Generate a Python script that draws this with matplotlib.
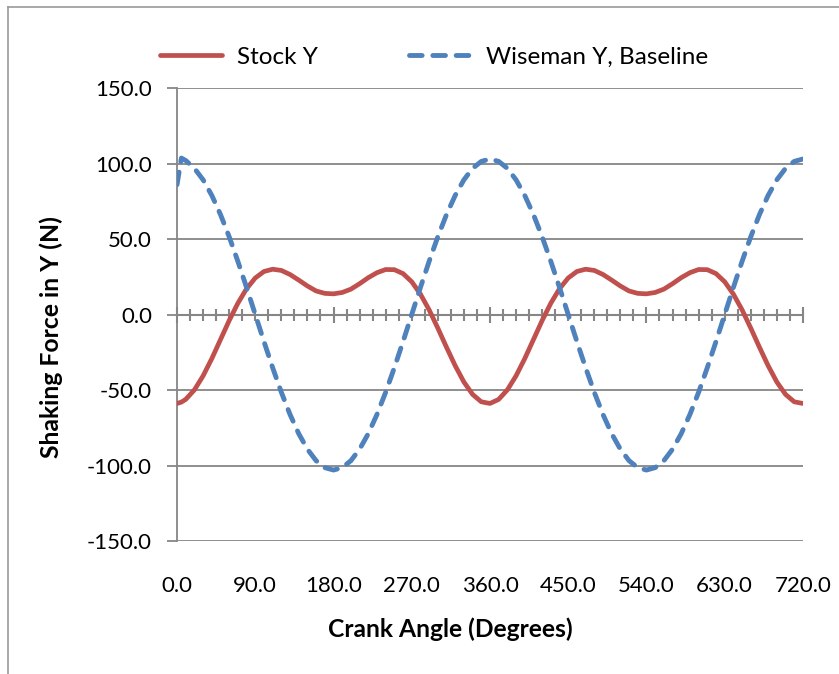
import matplotlib
matplotlib.use("Agg")
import matplotlib.pyplot as plt
from matplotlib.lines import Line2D

plt.rcParams["font.family"] = ["Lato", "DejaVu Sans"]

# crank angle (degrees) and shaking force readings (N)
crank_angle = [0, 5, 10, 20, 30, 40, 50, 60, 70, 80, 90, 100, 110, 120, 130, 140, 150, 160, 170, 180,
               190, 200, 210, 220, 230, 240, 250, 260, 270, 280, 290, 300, 310, 320, 330, 340, 350, 360,
               370, 380, 390, 400, 410, 420, 430, 440, 450, 460, 470, 480, 490, 500, 510, 520, 530, 540,
               550, 560, 570, 580, 590, 600, 610, 620, 630, 640, 650, 660, 670, 680, 690, 700, 710, 720]

stock_y = [-58.9, -58.0, -56.2, -49.9, -40.6, -29.2, -16.6, -4.0, 7.5, 17.1, 24.2, 28.5, 30.0, 29.2,
           26.5, 22.8, 18.9, 15.6, 14.0, 13.7,
           14.6, 16.8, 20.4, 24.4, 27.7, 29.8, 29.7, 27.1, 21.7, 13.5, 3.1, -9.0, -21.7, -33.9, -44.7,
           -52.9, -57.8, -58.9,
           -56.2, -49.9, -40.6, -29.2, -16.6, -4.0, 7.5, 17.1, 24.2, 28.5, 30.0, 29.2,
           26.5, 22.8, 18.9, 15.6, 14.0, 13.7,
           14.6, 16.8, 20.4, 24.4, 27.7, 29.8, 29.7, 27.1, 21.7, 13.5, 3.1, -9.0, -21.7, -33.9, -44.7,
           -52.9, -57.8, -58.9]

wiseman_y = [86.0, 103.6, 102.0, 96.8, 89.2, 78.9, 66.2, 51.5, 35.2, 17.9, 0.0, -17.9, -35.2, -51.5,
             -66.2, -78.9, -89.2, -96.8, -101.4, -103.0,
             -101.4, -96.8, -89.2, -78.9, -66.2, -51.5, -35.2, -17.9, 0.0, 17.9, 35.2, 51.5, 66.2,
             78.9, 89.2, 96.8, 101.4, 103.0,
             101.4, 96.8, 89.2, 78.9, 66.2, 51.5, 35.2, 17.9, 0.0, -17.9, -35.2, -51.5,
             -66.2, -78.9, -89.2, -96.8, -101.4, -103.0,
             -101.4, -96.8, -89.2, -78.9, -66.2, -51.5, -35.2, -17.9, 0.0, 17.9, 35.2, 51.5, 66.2,
             78.9, 89.2, 96.8, 101.4, 103.0]

x_ticks = [0, 90, 180, 270, 360, 450, 540, 630, 720]
x_labels = ["0.0", "90.0", "180.0", "270.0", "360.0", "450.0", "540.0", "630.0", "720.0"]
y_ticks = [-150, -100, -50, 0, 50, 100, 150]
y_labels = ["-150.0", "-100.0", "-50.0", "0.0", "50.0", "100.0", "150.0"]

red = "#C0504D"
blue = "#4F81BD"
grey = "#868686"
fs = 16

fig = plt.figure(figsize=(8.39, 6.74), dpi=100)
ax = fig.add_axes([0.211, 0.1973, 0.746, 0.6721])

ax.plot(crank_angle, stock_y, color=red, lw=3.4, label="Stock Y", zorder=3,
        solid_capstyle="round", solid_joinstyle="round")
ax.plot(crank_angle, wiseman_y, color=blue, lw=3.5, label="Wiseman Y, Baseline",
        linestyle=(0, (2.6, 2.2)), dash_capstyle="round", zorder=3)

ax.set_xlim(0, 720)
ax.set_ylim(-150, 150)

# y axis: grey spine, outward ticks, horizontal gridlines
ax.set_yticks(y_ticks)
ax.set_yticklabels(y_labels, fontsize=fs)
ax.tick_params(axis="y", direction="out", length=7, width=1.3, color=grey, pad=11)
ax.yaxis.grid(True, color=grey, lw=1.3)
for s in ["top", "right"]:
    ax.spines[s].set_visible(False)
ax.spines["left"].set_color(grey)
ax.spines["left"].set_linewidth(1.3)

# x axis crosses at zero with cross-style ticks
ax.spines["bottom"].set_position(("data", 0))
ax.spines["bottom"].set_color(grey)
ax.spines["bottom"].set_linewidth(1.5)
ax.set_xticks(list(range(0, 721, 180)))
ax.set_xticks(list(range(0, 721, 15)), minor=True)
ax.tick_params(axis="x", which="major", direction="inout", length=12, width=1.5,
               color=grey, labelbottom=False)
ax.tick_params(axis="x", which="minor", direction="inout", length=8.5, width=1.5,
               color=grey)

# tick labels sit at the bottom of the plot area
ax2 = ax.twiny()
ax2.set_xlim(0, 720)
ax2.xaxis.set_ticks_position("bottom")
ax2.set_xticks(x_ticks)
ax2.set_xticklabels(x_labels, fontsize=fs)
ax2.tick_params(axis="x", length=0, pad=25)
for s in ax2.spines.values():
    s.set_visible(False)

ax2.set_xlabel("Crank Angle (Degrees)", fontsize=17.7, fontweight="bold")
ax2.xaxis.set_label_position("bottom")
ax2.xaxis.set_label_coords(0.436, -0.168)
ax.set_ylabel("Shaking Force in Y (N)", fontsize=17.8, fontweight="bold")
ax.yaxis.set_label_coords(-0.182, 0.45)

ax.legend(loc="center left", bbox_to_anchor=(0.191, 0.915), bbox_transform=fig.transFigure,
          ncol=2, frameon=False, fontsize=17.5, handlelength=2.55, handletextpad=0.62,
          columnspacing=3.75, borderaxespad=0, borderpad=0)

# chart area border (top and left edges visible)
fig.add_artist(Line2D([0.0095, 1.0], [0.99, 0.99], color="#9a9a9a", lw=1.2,
                      transform=fig.transFigure))
fig.add_artist(Line2D([0.0095, 0.0095], [0.0, 0.99], color="#9a9a9a", lw=1.2,
                      transform=fig.transFigure))

fig.savefig("out.png", dpi=100)
